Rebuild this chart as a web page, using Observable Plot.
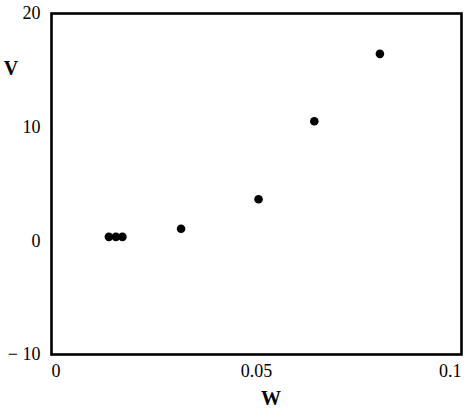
<!DOCTYPE html>
<html>
<head>
<meta charset="utf-8">
<script src="https://cdn.jsdelivr.net/npm/d3@7"></script>
<script src="https://cdn.jsdelivr.net/npm/@observablehq/plot@0.6"></script>
<style>
  html, body { margin: 0; padding: 0; background: #fff; }
  #chart svg { display: block; }
</style>
</head>
<body>
<div id="chart"></div>
<script>
const wValues = [0.0140, 0.0157, 0.0173, 0.0316, 0.0505, 0.0641, 0.0801];
const vValues = [0.35, 0.35, 0.35, 1.06, 3.66, 10.52, 16.45];
const xTicks = [0, 0.05, 0.1];
const xTickLabels = ["0", "0.05", "0.1"];
const yTicks = [-10, 0, 10, 20];
const yTickLabels = ["\u2212 10", "0", "10", "20"];
const xLabel = "W";
const yLabel = "V";

const points = wValues.map((w, i) => ({w, v: vValues[i]}));
const xt = xTicks.map((t, i) => ({t, label: xTickLabels[i]}));
const font = "'Liberation Serif', 'Times New Roman', serif";

const chart = Plot.plot({
  width: 474,
  height: 420,
  marginLeft: 51,
  marginRight: 13,
  marginTop: 13,
  marginBottom: 66,
  style: {fontFamily: font, fontSize: "18px", color: "#000", background: "#fff"},
  x: {domain: [0, 0.1], axis: null},
  y: {domain: [-10, 20], axis: null},
  marks: [
    Plot.frame({stroke: "#000", strokeWidth: 2.6}),
    Plot.text(yTicks, {x: 0, y: d => d, text: (d, i) => yTickLabels[i], textAnchor: "end", dx: -11, fontSize: 18, fill: "#000"}),
    Plot.text(xt.slice(0, 1), {x: "t", y: -10, text: "label", textAnchor: "start", dy: 17, fontSize: 18, fill: "#000"}),
    Plot.text(xt.slice(1, xt.length - 1), {x: "t", y: -10, text: "label", textAnchor: "middle", dy: 17, fontSize: 18, fill: "#000"}),
    Plot.text(xt.slice(-1), {x: "t", y: -10, text: "label", textAnchor: "end", dy: 17, fontSize: 18, fill: "#000"}),
    Plot.dot(points, {x: "w", y: "v", r: 4.3, fill: "#000", stroke: "none"})
  ]
});

const svg = d3.select(chart);
svg.append("text")
  .attr("x", 271).attr("y", 405)
  .attr("text-anchor", "middle")
  .attr("font-family", font).attr("font-weight", "bold").attr("font-size", 20)
  .text(xLabel);
svg.append("text")
  .attr("x", 11).attr("y", 75)
  .attr("text-anchor", "middle")
  .attr("font-family", font).attr("font-weight", "bold").attr("font-size", 20)
  .text(yLabel);

document.getElementById("chart").appendChild(chart);
</script>
</body>
</html>
